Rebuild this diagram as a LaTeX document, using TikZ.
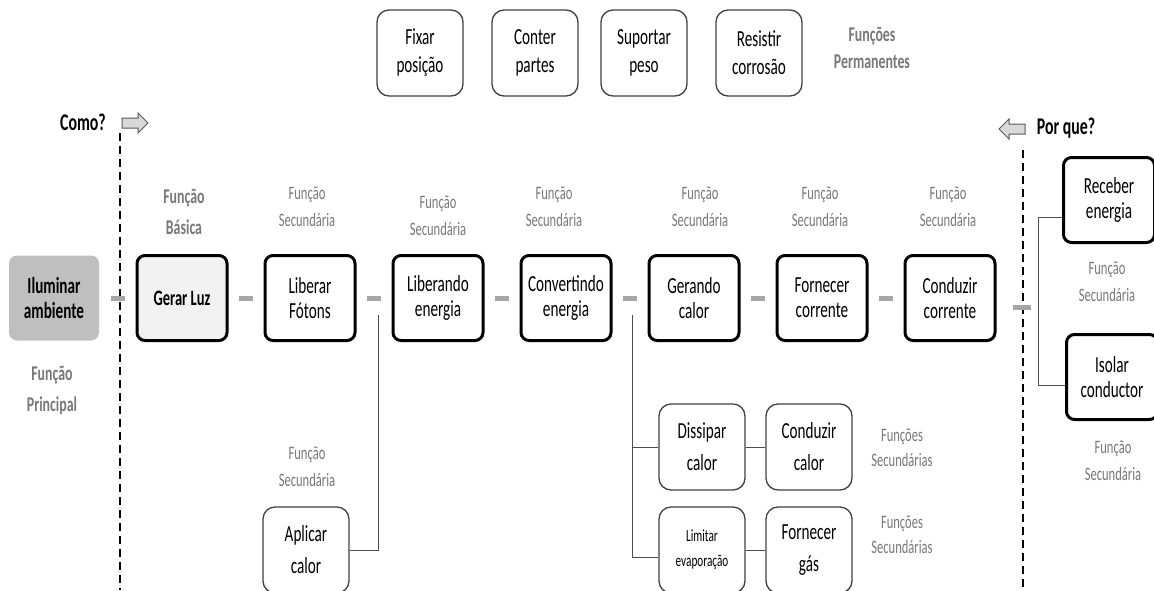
\documentclass[tikz,border=0pt]{standalone}
\usepackage{fontspec}
\setmainfont{Carlito}[FakeStretch=0.66]
\usetikzlibrary{calc}
\definecolor{lblgray}{RGB}{120,120,120}
\definecolor{ilufill}{RGB}{191,191,191}
\definecolor{gerfill}{RGB}{242,242,242}
\definecolor{dashgray}{RGB}{166,166,166}
\definecolor{arrowfill}{RGB}{217,217,217}
\begin{document}
\begin{tikzpicture}[x=1pt,y=-1pt,
  mainbox/.style={draw, line width=3pt, rounded corners=8pt, minimum width=90pt,
    minimum height=85pt, align=center, inner sep=0pt, font=\fontsize{23}{25}\selectfont},
  thinbox/.style={draw=black!75, line width=1.3pt, rounded corners=12pt, minimum width=86pt,
    minimum height=86pt, align=center, inner sep=0pt, font=\fontsize{23}{28}\selectfont},
  lowbox/.style={thinbox, font=\fontsize{23}{32}\selectfont},
  lbl/.style={text=lblgray, align=center, inner sep=0pt, font=\fontsize{19}{27}\selectfont},
  blbl/.style={text=lblgray, align=center, inner sep=0pt, font=\bfseries\fontsize{21}{31}\selectfont},
  qlbl/.style={inner sep=0pt, font=\bfseries\fontsize{24}{26}\selectfont},
  link/.style={draw=black!70, line width=1pt},
  gdash/.style={draw=dashgray, line width=5pt},
  divider/.style={draw=black, line width=1.3pt, dash pattern=on 8pt off 5pt},
  hollowarrow/.style={draw=black!65, fill=arrowfill, line width=1pt, line join=miter}]
\useasboundingbox (0,0) rectangle (1154,590);
\clip (0,0) rectangle (1154,590);

% permanent functions
\node[thinbox] (fix) at (420,53) {Fixar\\posição};
\node[thinbox] (cnt) at (535,53) {Conter\\partes};
\node[thinbox] (sup) at (644,53) {Suportar\\peso};
\node[thinbox] (res) at (759,53) {Resistir\\corrosão};
\node[blbl, font=\bfseries\fontsize{21}{27}\selectfont] (perm) at (872,48) {Funções\\Permanentes};

% how / why markers
\node[qlbl] (como) at (83,122) {Como?};
\node[qlbl] (porque) at (1066,128) {Por que?};
\path[hollowarrow] (122,118) -- (138,118) -- (138,113) -- (148,123) -- (138,133) -- (138,128) -- (122,128) -- cycle;
\path[hollowarrow] (1025,124) -- (1009,124) -- (1009,119) -- (999,129) -- (1009,139) -- (1009,134) -- (1025,134) -- cycle;
\draw[divider] (120,133) -- (120,590);
\draw[divider] (1023,150) -- (1023,590);

% main function chain
\node[mainbox, draw=none, fill=ilufill, font=\bfseries\fontsize{23}{25}\selectfont] (ilu) at (54,298) {Iluminar\\ambiente};
\node[mainbox, fill=gerfill, font=\bfseries\fontsize{22}{25}\selectfont] (ger) at (182,298) {Gerar Luz};
\node[mainbox] (lib) at (310,298) {Liberar\\Fótons};
\node[mainbox] (libe) at (438,298) {Liberando\\energia};
\node[mainbox] (conv) at (566,298) {Convertindo\\energia};
\node[mainbox] (gera) at (694,298) {Gerando\\calor};
\node[mainbox] (forn) at (822,298) {Fornecer\\corrente};
\node[mainbox] (cond) at (950,298) {Conduzir\\corrente};
\node[mainbox, minimum width=91pt] (rec) at (1109,200) {Receber\\energia};
\node[mainbox, minimum width=91pt] (iso) at (1112,377) {Isolar\\conductor};

% labels of the chain
\node[blbl] (lprin) at (52,390) {Função\\Principal};
\node[blbl] (lbas) at (184,212) {Função\\Básica};
\node[lbl] (l1) at (307,207) {Função\\Secundária};
\node[lbl] (l2) at (438,216) {Função\\Secundária};
\node[lbl] (l3) at (554,207) {Função\\Secundária};
\node[lbl] (l4) at (700,207) {Função\\Secundária};
\node[lbl] (l5) at (820,207) {Função\\Secundária};
\node[lbl] (l6) at (948,207) {Função\\Secundária};
\node[lbl] (l7) at (1107,282) {Função\\Secundária};
\node[lbl] (l8) at (1113,461) {Função\\Secundária};

% gray links of the chain
\foreach \a/\b in {ilu/ger, ger/lib, lib/libe, libe/conv, conv/gera, gera/forn, forn/cond}
  \draw[gdash] ($(\a.east)!0.5!(\b.west)+(-7,0)$) -- ++(14,0);
\draw[gdash] ($(cond.east)+(16,9)$) -- ++(18,0);

% secondary branches
\node[lowbox] (apl) at (306,550) {Aplicar\\calor};
\node[lbl] (l9) at (307,467) {Função\\Secundária};
\node[lowbox] (dis) at (702,447) {Dissipar\\calor};
\node[lowbox] (cca) at (809,447) {Conduzir\\calor};
\node[lowbox, font=\fontsize{17}{25}\selectfont] (lim) at (702,550) {Limitar\\evaporação};
\node[lowbox] (gas) at (809,550) {Fornecer\\gás};
\node[lbl, font=\fontsize{19}{25}\selectfont] (l10) at (902,448) {Funções\\Secundárias};
\node[lbl, font=\fontsize{19}{25}\selectfont] (l11) at (902,535) {Funções\\Secundárias};

\coordinate (j1) at ($(lib.east)!0.5!(libe.west)+(4,17)$);
\coordinate (j2) at ($(conv.east)!0.5!(gera.west)+(2,17)$);
\draw[link] (j1) |- (apl.east);
\draw[link] (j2) |- ([yshift=-7pt]lim.west);
\draw[link] (j2 |- dis.west) -- (dis.west);
\draw[link] (dis.east) -- (cca.west);
\draw[link] (lim.east) -- (gas.west);
\draw[link] ([yshift=-17pt]rec.west) -| ([xshift=-27pt,yshift=-8pt]iso.west) -- ([yshift=-8pt]iso.west);
\end{tikzpicture}
\end{document}
